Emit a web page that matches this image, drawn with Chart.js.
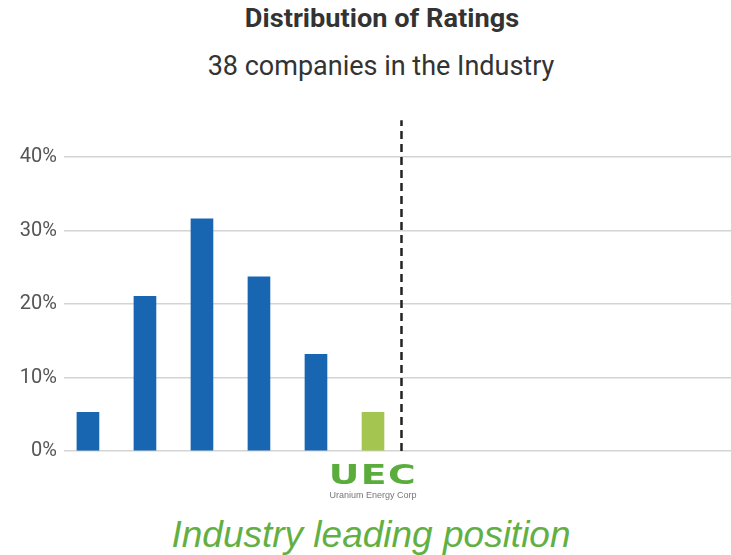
<!DOCTYPE html>
<html>
<head>
<meta charset="utf-8">
<script src="https://cdn.jsdelivr.net/npm/chart.js@4/dist/chart.umd.min.js"></script>
<style>
  body { margin: 0; background: #fff; width: 731px; height: 555px; position: relative; overflow: hidden; font-family: Roboto, sans-serif; }
  .title { position: absolute; top: 6px; left: 32px; width: 700px; text-align: center; font-weight: bold; font-size: 25px; line-height: 25px; color: #333; transform: scaleX(1.087); }
  .subtitle { position: absolute; top: 53px; left: 31px; width: 700px; text-align: center; font-size: 27px; line-height: 27px; color: #333; }
  #wrap { position: absolute; left: 0; top: 110px; width: 731px; height: 360px; }
  .logo { position: absolute; left: 273px; top: 460px; width: 200px; text-align: center; font-family: "DejaVu Sans", sans-serif; font-weight: bold; font-size: 26px; color: #5aad3c; transform: scaleX(1.45); letter-spacing: 1px; }
  .logo-sub { position: absolute; left: 273px; top: 490px; width: 200px; text-align: center; font-family: "Liberation Sans", sans-serif; font-size: 9px; color: #777; }
  .foot { position: absolute; left: 0; top: 516px; width: 742px; text-align: center; font-family: "Liberation Sans", Arial, sans-serif; font-style: italic; font-size: 37px; line-height: 37px; color: #62b043; }
</style>
</head>
<body>
<div class="title">Distribution of Ratings</div>
<div class="subtitle">38 companies in the Industry</div>
<div id="wrap"><canvas id="ratings"></canvas></div>
<div class="logo">UEC</div>
<div class="logo-sub">Uranium Energy Corp</div>
<div class="foot">Industry leading position</div>

<script>
// positions des barres (classes de notation) et parts en %
const ratingClass = [1, 2, 3, 4, 5, 6]
const sharePct = [5.26, 21.05, 31.58, 23.68, 13.16, 5.26]
const barColors = ['#1866b1', '#1866b1', '#1866b1', '#1866b1', '#1866b1', '#a4c650']
const yTicks = [0, 10, 20, 30, 40]
// ligne pointillée entre la position UEC et le reste
const dividerX = 6.5
const dividerTop = 45

new Chart(
    document.getElementById('ratings'),
    {
        data: {
            datasets: [
                {
                    type: 'bar',
                    data: ratingClass.map((c, i) => ({ x: c, y: sharePct[i] })),
                    backgroundColor: barColors,
                    barThickness: 22
                },
                {
                    type: 'line',
                    data: [{ x: dividerX, y: 0 }, { x: dividerX, y: dividerTop }],
                    borderColor: '#222',
                    borderWidth: 2.5,
                    borderDash: [8, 5],
                    pointRadius: 0,
                    clip: false
                }
            ]
        },
        options: {
            responsive: true,
            maintainAspectRatio: false,
            animation: false,
            layout: { padding: { top: 47, bottom: 3, left: 0, right: 0 } },
            scales: {
                x: {
                    type: 'linear',
                    offset: false,
                    min: 0.58,
                    max: 12.28,
                    display: false
                },
                y: {
                    min: 0,
                    max: 40,
                    afterFit: s => { s.width = 64 },
                    afterBuildTicks: s => { s.ticks = yTicks.map(v => ({ value: v })) },
                    border: { display: false },
                    grid: { color: '#d4d4d4', lineWidth: 1.5, drawTicks: false },
                    ticks: {
                        padding: 7,
                        color: '#555',
                        font: { family: 'Roboto', size: 20 },
                        callback: v => v + '%'
                    }
                }
            },
            plugins: {
                legend: { display: false },
                tooltip: { enabled: false }
            }
        }
    }
);
</script>
</body>
</html>
